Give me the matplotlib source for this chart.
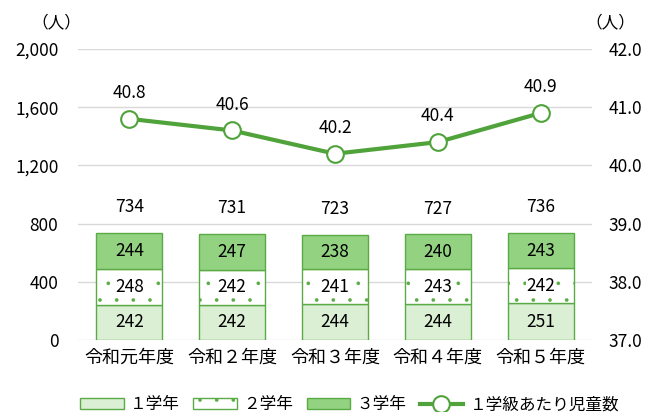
import matplotlib
matplotlib.use("Agg")
import matplotlib.pyplot as plt
import numpy as np

plt.rcParams['font.family'] = ['Noto Sans CJK JP', 'DejaVu Sans']
plt.rcParams['hatch.linewidth'] = 0.2

categories = ["令和元年度", "令和２年度", "令和３年度", "令和４年度", "令和５年度"]
grade1 = [242, 242, 244, 244, 251]
grade2 = [248, 242, 241, 243, 242]
grade3 = [244, 247, 238, 240, 243]
totals = [734, 731, 723, 727, 736]
per_class = [40.8, 40.6, 40.2, 40.4, 40.9]
left_ticks = [0, 400, 800, 1200, 1600, 2000]
left_labels = ["0", "400", "800", "1,200", "1,600", "2,000"]
right_ticks = [37.0, 38.0, 39.0, 40.0, 41.0, 42.0]
series_names = ["１学年", "２学年", "３学年", "１学級あたり児童数"]

c1 = "#dbefd5"
c3 = "#92d281"
edge = "#5aab46"
line_c = "#4fa33a"
nfs = 12.5

fig = plt.figure(figsize=(6.6, 4.12), dpi=100)
ax = fig.add_axes([0.118, 0.175, 0.779, 0.706])
x = np.arange(len(categories))
w = 0.64

b1 = ax.bar(x, grade1, w, color=c1, edgecolor=edge, linewidth=1.0, zorder=3, label=series_names[0])
b2 = ax.bar(x, grade2, w, bottom=grade1, color="white", edgecolor=edge, hatch=".", linewidth=1.0, zorder=3, label=series_names[1])
bottom3 = np.array(grade1) + np.array(grade2)
b3 = ax.bar(x, grade3, w, bottom=bottom3, color=c3, edgecolor=edge, linewidth=1.0, zorder=3, label=series_names[2])

for i in range(len(categories)):
    ax.text(x[i], grade1[i] / 2, str(grade1[i]), ha="center", va="center", fontsize=nfs, zorder=5)
    ax.text(x[i], grade1[i] + grade2[i] / 2, str(grade2[i]), ha="center", va="center", fontsize=nfs, zorder=5,
            bbox=dict(facecolor="white", edgecolor="none", pad=0.3))
    ax.text(x[i], bottom3[i] + grade3[i] / 2, str(grade3[i]), ha="center", va="center", fontsize=nfs, zorder=5)
    ax.annotate(str(totals[i]), (x[i], totals[i]), xytext=(0, 12), textcoords="offset points",
                ha="center", va="bottom", fontsize=nfs)

ax.set_ylim(0, 2000)
ax.set_xlim(-0.5, len(categories) - 0.5)
ax.set_yticks(left_ticks)
ax.set_yticklabels(left_labels, fontsize=nfs)
ax.set_xticks(x)
ax.set_xticklabels(categories, fontsize=13)
ax.tick_params(length=0, pad=14, axis="y")
ax.tick_params(length=0, pad=6, axis="x")
ax.yaxis.grid(True, color="#d9d9d9", linewidth=1.0, zorder=0)
ax.set_axisbelow(True)
for s in ax.spines.values():
    s.set_visible(False)

ax2 = ax.twinx()
ln, = ax2.plot(x, per_class, color=line_c, linewidth=3, marker="o", markersize=12,
               markerfacecolor="white", markeredgecolor=line_c, markeredgewidth=1.5, zorder=4,
               label=series_names[3])
for i in range(len(categories)):
    ax2.annotate(f"{per_class[i]:.1f}", (x[i], per_class[i]), xytext=(0, 12), textcoords="offset points",
                 ha="center", va="bottom", fontsize=nfs)
ax2.set_ylim(37, 42)
ax2.set_yticks(right_ticks)
ax2.set_yticklabels([f"{t:.1f}" for t in right_ticks], fontsize=nfs)
ax2.tick_params(length=0, pad=12)
for s in ax2.spines.values():
    s.set_visible(False)

fig.text(0.085, 0.945, "（人）", ha="center", va="center", fontsize=12)
fig.text(0.925, 0.945, "（人）", ha="center", va="center", fontsize=12)

fig.legend([b1, b2, b3, ln], series_names, loc="lower center", bbox_to_anchor=(0.53, -0.04),
           ncol=4, frameon=False, fontsize=12, handlelength=2.6, handleheight=0.6,
           handletextpad=0.4, columnspacing=0.8)

fig.savefig("out.png", dpi=100)
